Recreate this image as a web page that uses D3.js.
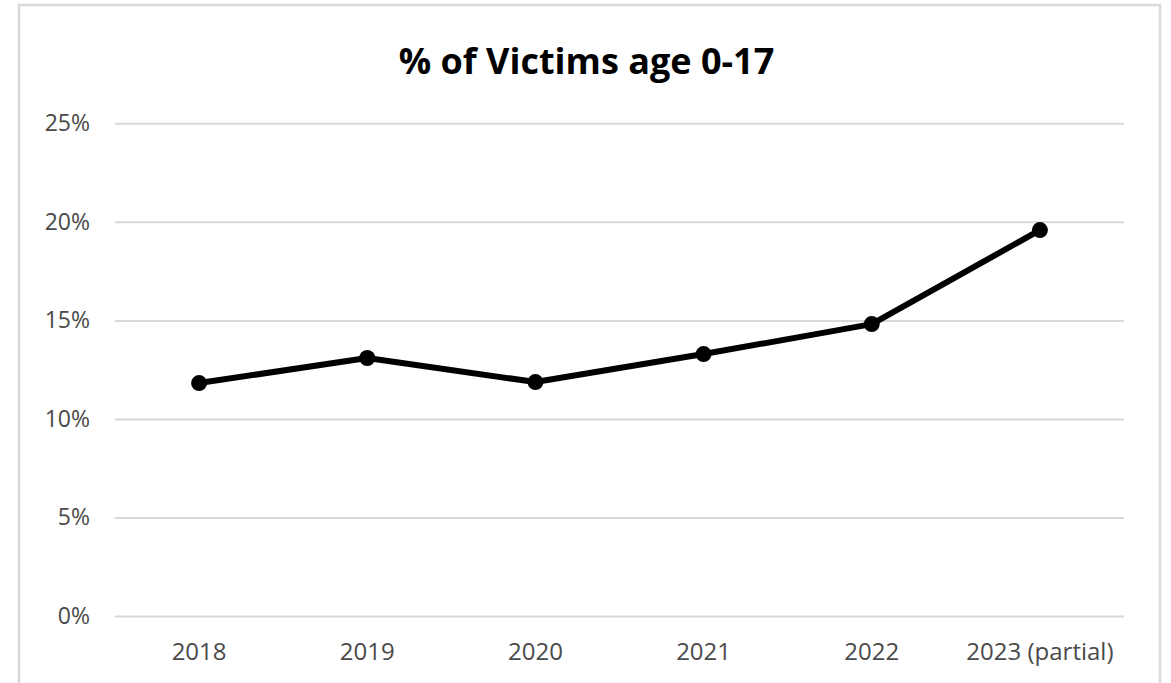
<!DOCTYPE html>
<html>
<head>
<meta charset="utf-8">
<script src="https://cdn.jsdelivr.net/npm/d3@7"></script>
<style>
  html, body { margin: 0; padding: 0; background: #fff; }
  svg { display: block; }
</style>
</head>
<body>
<svg id="chart" width="1171" height="683"></svg>
<script>
const categories = ["2018", "2019", "2020", "2021", "2022", "2023 (partial)"];
const values = [11.82, 13.09, 11.87, 13.29, 14.81, 19.58];
const yTicks = [0, 5, 10, 15, 20, 25];
const title = "% of Victims age 0-17";

(function () {
const W = 1171, H = 683;
const svg = d3.select("#chart");

// chart area border
svg.append("rect")
  .attr("x", 19).attr("y", 5)
  .attr("width", 1141).attr("height", 700)
  .attr("fill", "#fff")
  .attr("stroke", "#d9d9d9").attr("stroke-width", 2.5);

const pLeft = 115, pRight = 1124, pTop = 123.3, pBottom = 616;

const x = d3.scaleBand().domain(categories).range([pLeft, pRight]).padding(0);
const y = d3.scaleLinear().domain([0, 25]).range([pBottom, pTop]);

// gridlines
const yAxis = d3.axisLeft(y).tickValues(yTicks).tickSize(-(pRight - pLeft)).tickPadding(25)
  .tickFormat(d => d + "%");
const gy = svg.append("g").attr("transform", `translate(${pLeft},0)`).call(yAxis);
gy.select(".domain").remove();
gy.selectAll(".tick line").attr("stroke", "#d9d9d9").attr("stroke-width", 2);
gy.selectAll(".tick text")
  .attr("fill", "#4a4a4a")
  .style("font-family", "'Open Sans', sans-serif")
  .style("font-size", "23px");

const xAxis = d3.axisBottom(x).tickSize(0).tickPadding(27);
const gx = svg.append("g").attr("transform", `translate(0,${pBottom})`).call(xAxis);
gx.select(".domain").remove();
gx.selectAll(".tick text")
  .attr("fill", "#4a4a4a")
  .style("font-family", "'Open Sans', sans-serif")
  .style("font-size", "24px");

// line
const data = categories.map((c, i) => ({c, v: values[i]}));
const line = d3.line().x(d => x(d.c) + x.bandwidth() / 2).y(d => y(d.v));
svg.append("path").datum(data)
  .attr("d", line)
  .attr("fill", "none")
  .attr("stroke", "#000")
  .attr("stroke-width", 6)
  .attr("stroke-linejoin", "round");

svg.selectAll("circle.pt").data(data).enter().append("circle")
  .attr("class", "pt")
  .attr("cx", d => x(d.c) + x.bandwidth() / 2)
  .attr("cy", d => y(d.v))
  .attr("r", 8)
  .attr("fill", "#000");

// title
svg.append("text")
  .attr("x", W / 2 + 1).attr("y", 74)
  .attr("text-anchor", "middle")
  .attr("fill", "#000")
  .style("font-family", "'Open Sans', sans-serif")
  .style("font-weight", "bold")
  .style("font-size", "36px")
  .text(title);
})();
</script>
</body>
</html>
